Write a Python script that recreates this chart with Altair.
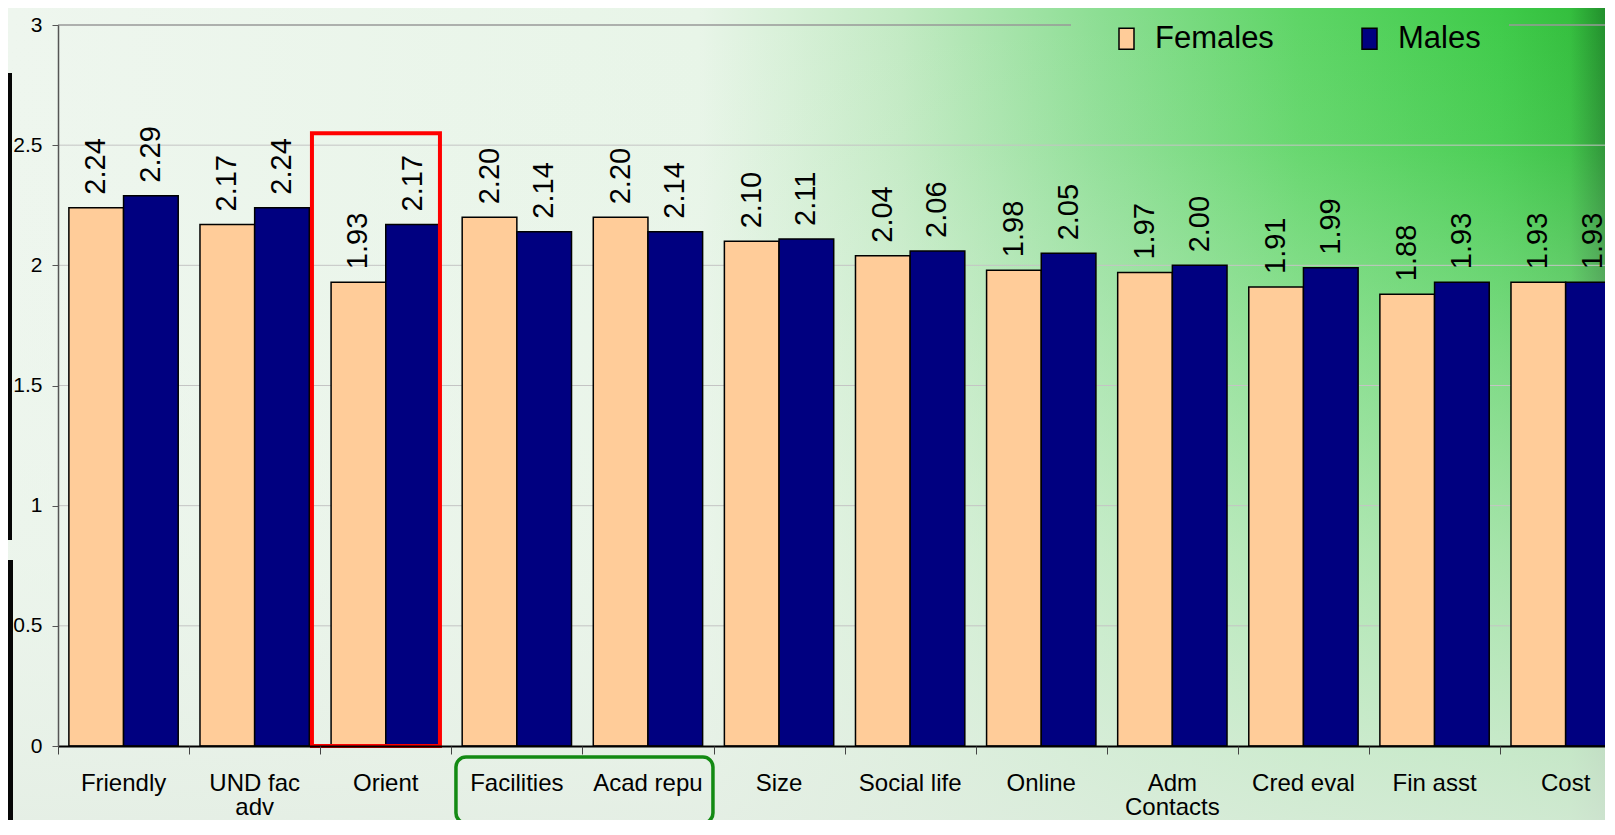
import altair as alt
import pandas as pd

FONT = "Liberation Sans, Arial, sans-serif"

categories = ["Friendly", "UND fac adv", "Orient", "Facilities", "Acad repu", "Size",
              "Social life", "Online", "Adm Contacts", "Cred eval", "Fin asst", "Cost"]
tick_labels = [["Friendly"], ["UND fac", "adv"], ["Orient"], ["Facilities"], ["Acad repu"], ["Size"],
               ["Social life"], ["Online"], ["Adm", "Contacts"], ["Cred eval"], ["Fin asst"], ["Cost"]]
females = [2.24, 2.17, 1.93, 2.20, 2.20, 2.10, 2.04, 1.98, 1.97, 1.91, 1.88, 1.93]
males = [2.29, 2.24, 2.17, 2.14, 2.14, 2.11, 2.06, 2.05, 2.00, 1.99, 1.93, 1.93]
series = ["Females", "Males"]
colors = ["#FFCC99", "#000080"]
y_ticks = [0, 0.5, 1, 1.5, 2, 2.5, 3]
grid_values = [0.5, 1, 1.5, 2, 2.5]
top_value = [3]
highlight_red = ["Orient"]
highlight_red_top = [2.55]
highlight_green = ["Facilities"]

rows = []
for c, f, m in zip(categories, females, males):
    rows.append({"cat": c, "gender": "Females", "value": f})
    rows.append({"cat": c, "gender": "Males", "value": m})
df = pd.DataFrame(rows)

W, H = 1547, 721
STEP = 131.1
RANGE_END = STEP * len(categories)
P_IN = 0.166

# multi-line tick label expression
parts = []
for c, lab in zip(categories, tick_labels):
    if len(lab) > 1:
        arr = "[" + ",".join("'" + s + "'" for s in lab) + "]"
        parts.append(f"datum.value == '{c}' ? {arr} : ")
label_expr = "".join(parts) + "datum.value"

x_scale = alt.Scale(domain=categories, range=[0, RANGE_END], paddingInner=P_IN, paddingOuter=P_IN / 2)
y_scale = alt.Scale(domain=[0, 3], nice=False, zero=True)
off_scale = alt.Scale(domain=series, paddingInner=0, paddingOuter=0)

label_axis = alt.Axis(orient="bottom", title=None, ticks=False, tickSize=0, domain=True,
                      domainColor="black", domainWidth=2, labelFontSize=24, labelFont=FONT,
                      labelColor="black", labelPadding=25, labelLineHeight=24,
                      labelExpr=label_expr, labelAngle=0, grid=False, zindex=1,
                      labelLimit=0, labelOverlap=False)
tick_axis = alt.Axis(orient="bottom", title=None, labels=False, domain=False, ticks=True,
                     tickSize=8, tickColor="#444444", tickWidth=1, bandPosition=0,
                     tickOffset=-STEP * P_IN / 2, grid=False, zindex=1)
y_axis = alt.Axis(orient="left", values=y_ticks, format="~g", title=None, grid=False,
                  domainColor="#555555", domainWidth=1.5, tickColor="#555555", tickSize=6,
                  labelFontSize=21, labelFont=FONT, labelColor="black", labelPadding=10,
                  zindex=1)

h_gradient = {
    "gradient": "linear", "x1": 0, "y1": 0, "x2": 1, "y2": 0,
    "stops": [
        {"offset": 0, "color": "#eef6ee"},
        {"offset": 0.433, "color": "#e8f5e8"},
        {"offset": 0.559, "color": "#c2eac3"},
        {"offset": 0.684, "color": "#8cde93"},
        {"offset": 0.809, "color": "#5ed566"},
        {"offset": 0.934, "color": "#3fcb4a"},
        {"offset": 0.978, "color": "#34bf3e"},
        {"offset": 1, "color": "#22902c"},
    ],
}
v_fade = {
    "gradient": "linear", "x1": 0, "y1": 0, "x2": 0, "y2": 1,
    "stops": [
        {"offset": 0, "color": "rgba(236,245,236,0)"},
        {"offset": 0.175, "color": "rgba(236,245,236,0.08)"},
        {"offset": 0.42, "color": "rgba(236,245,236,0.35)"},
        {"offset": 0.667, "color": "rgba(234,244,234,0.6)"},
        {"offset": 0.914, "color": "rgba(230,240,230,0.82)"},
        {"offset": 1, "color": "rgba(228,238,228,0.88)"},
    ],
}

dummy = pd.DataFrame({"k": [0]})
bg = alt.Chart(dummy).mark_rect(fill=h_gradient).encode(
    x=alt.value(-50), x2=alt.value(W), y=alt.value(-17), y2=alt.value(H + 74))
fade = alt.Chart(dummy).mark_rect(fill=v_fade).encode(
    x=alt.value(-50), x2=alt.value(W), y=alt.value(-17), y2=alt.value(H + 74))
strip1 = alt.Chart(dummy).mark_rect(fill="#060606").encode(
    x=alt.value(-50), x2=alt.value(-46), y=alt.value(48), y2=alt.value(515))
strip2 = alt.Chart(dummy).mark_rect(fill="#060606").encode(
    x=alt.value(-50), x2=alt.value(-45), y=alt.value(535), y2=alt.value(H + 74))

grid = alt.Chart(pd.DataFrame({"value": grid_values})).mark_rule(color="#c4c4c4", strokeWidth=1).encode(
    y=alt.Y("value:Q", scale=y_scale, axis=y_axis), x=alt.value(0), x2=alt.value(W))
# top line, interrupted by the legend box
top_left = alt.Chart(pd.DataFrame({"value": top_value})).mark_rule(color="#999999", strokeWidth=1.5).encode(
    y=alt.Y("value:Q", scale=y_scale, axis=y_axis), x=alt.value(0), x2=alt.value(1013))
top_right = alt.Chart(pd.DataFrame({"value": top_value})).mark_rule(color="#999999", strokeWidth=1.5).encode(
    y=alt.Y("value:Q", scale=y_scale, axis=y_axis), x=alt.value(1451), x2=alt.value(W))

base = alt.Chart(df)
legend = alt.Legend(title=None, orient="none", legendX=1043, legendY=-12, direction="horizontal",
                    labelFontSize=31, labelFont=FONT, labelColor="black",
                    symbolType="M-0.714,-1H0.714V1H-0.714Z", symbolSize=441,
                    symbolStrokeColor="black", symbolStrokeWidth=1.5, labelOffset=13,
                    columnPadding=80, padding=10, symbolOpacity=1)

bars = base.mark_bar(stroke="black", strokeWidth=1.5).encode(
    x=alt.X("cat:N", scale=x_scale, axis=label_axis),
    xOffset=alt.XOffset("gender:N", scale=off_scale),
    y=alt.Y("value:Q", scale=y_scale, axis=y_axis),
    color=alt.Color("gender:N", scale=alt.Scale(domain=series, range=colors), legend=legend),
)

text = base.mark_text(angle=270, align="left", baseline="middle", dx=13, fontSize=29,
                      font=FONT, color="black").encode(
    x=alt.X("cat:N", scale=x_scale, axis=tick_axis),
    xOffset=alt.XOffset("gender:N", scale=off_scale),
    y=alt.Y("value:Q", scale=y_scale, axis=y_axis),
    text=alt.Text("value:Q", format=".2f"),
)

red = alt.Chart(pd.DataFrame({"cat": highlight_red, "value": highlight_red_top})).mark_bar(
    filled=False, stroke="#ff0000", strokeWidth=4, size=128, xOffset=-9.8).encode(
    x=alt.X("cat:N", scale=x_scale, axis=None),
    y=alt.Y("value:Q", scale=y_scale, axis=y_axis),
    y2=alt.value(H + 120),
)

green = alt.Chart(pd.DataFrame({"cat": highlight_green})).mark_bar(
    filled=False, stroke="#138a13", strokeWidth=3.5, cornerRadius=10, size=257, xOffset=67.6).encode(
    x=alt.X("cat:N", scale=x_scale, axis=None),
    y=alt.value(H + 11),
    y2=alt.value(H + 77),
)

chart = alt.layer(bg, fade, strip1, strip2, grid, top_left, top_right, bars, text, red, green).resolve_axis(
    x="independent"
).properties(
    width=W, height=H,
    autosize=alt.AutoSizeParams(type="none"),
    padding={"left": 50, "top": 17, "right": 0, "bottom": 74},
    background="#eef6ee",
).configure_view(strokeWidth=0)

chart.save("out.html", embed_options={"renderer": "svg", "actions": False})
